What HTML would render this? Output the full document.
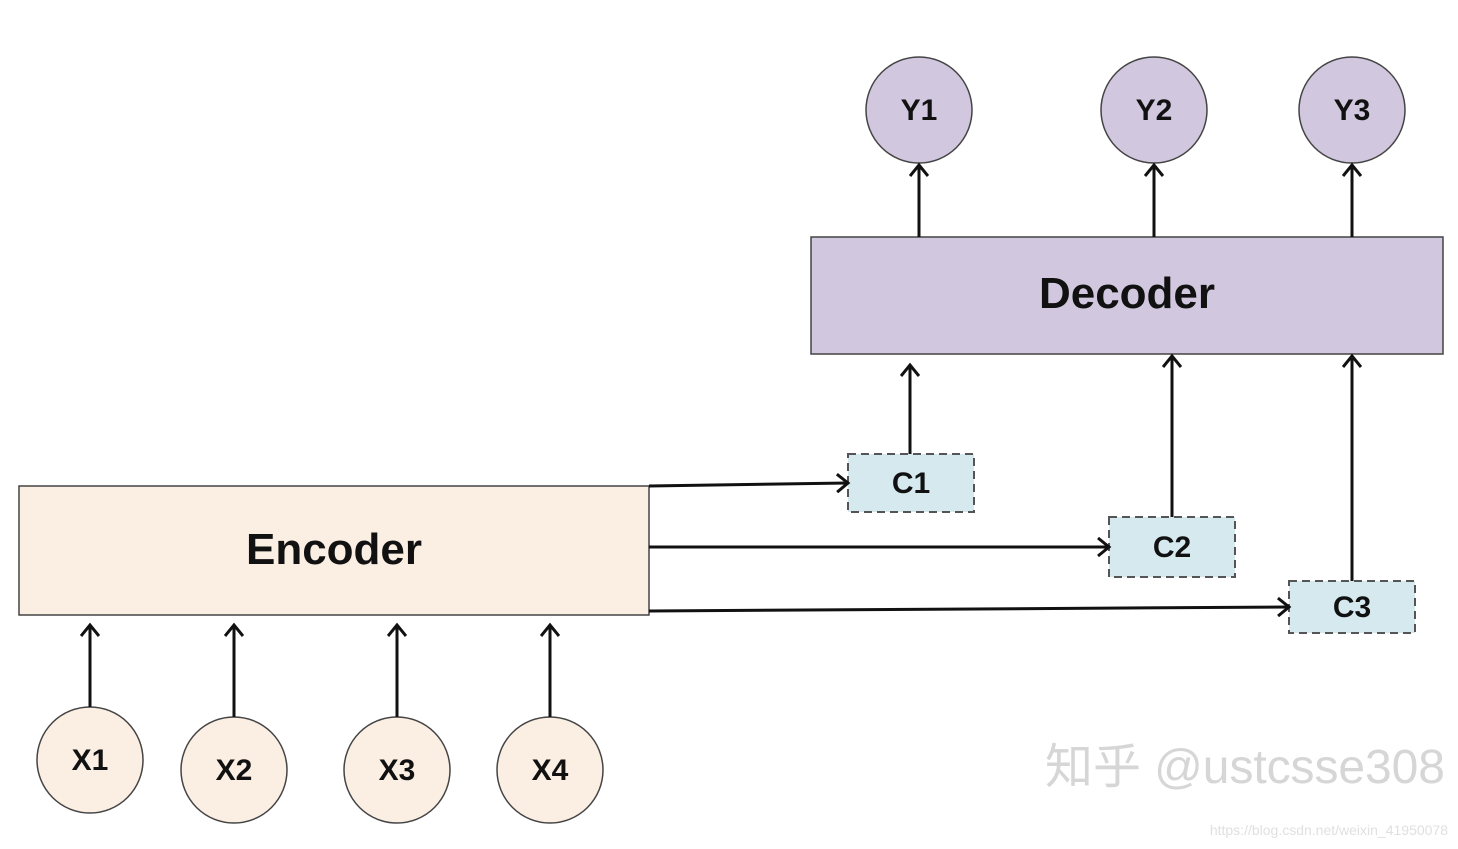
<!DOCTYPE html>
<html><head><meta charset="utf-8"><style>
html,body{margin:0;padding:0;background:#fff;}
svg{display:block;}
text{font-family:"Liberation Sans",sans-serif;font-weight:bold;fill:#111;}
</style></head><body>
<svg width="1458" height="849" viewBox="0 0 1458 849" xmlns="http://www.w3.org/2000/svg">
<defs>
<marker id="a" markerWidth="20" markerHeight="20" refX="13" refY="10" orient="auto" markerUnits="userSpaceOnUse">
<path d="M2,1 L13,10 L2,19" fill="none" stroke="#111" stroke-width="3"/>
</marker>
</defs>
<g stroke="#444" stroke-width="1.5" fill="#d1c7de">
<circle cx="919" cy="110" r="53"/><circle cx="1154" cy="110" r="53"/><circle cx="1352" cy="110" r="53"/>
<rect x="811" y="237" width="632" height="117"/>
</g>
<rect x="19" y="486" width="630" height="129" fill="#fbeee3" stroke="#444" stroke-width="1.5"/>
<g fill="#fbeee3" stroke="#444" stroke-width="1.5">
<circle cx="90" cy="760" r="53"/><circle cx="234" cy="770" r="53"/><circle cx="397" cy="770" r="53"/><circle cx="550" cy="770" r="53"/>
</g>
<g fill="#d5e9ef" stroke="#555" stroke-width="2" stroke-dasharray="8,5">
<rect x="848" y="454" width="126" height="58"/>
<rect x="1109" y="517" width="126" height="60"/>
<rect x="1289" y="581" width="126" height="52"/>
</g>
<g stroke="#111" stroke-width="3" fill="none" marker-end="url(#a)">
<line x1="919" y1="237" x2="919" y2="165"/>
<line x1="1154" y1="237" x2="1154" y2="165"/>
<line x1="1352" y1="237" x2="1352" y2="165"/>
<line x1="910" y1="454" x2="910" y2="365"/>
<line x1="1172" y1="517" x2="1172" y2="356"/>
<line x1="1352" y1="581" x2="1352" y2="356"/>
<line x1="649" y1="486" x2="848" y2="483"/>
<line x1="649" y1="547" x2="1109" y2="547"/>
<line x1="649" y1="611" x2="1289" y2="607"/>
<line x1="90" y1="707" x2="90" y2="625"/>
<line x1="234" y1="717" x2="234" y2="625"/>
<line x1="397" y1="717" x2="397" y2="625"/>
<line x1="550" y1="717" x2="550" y2="625"/>
</g>
<g text-anchor="middle" font-size="30">
<text x="919" y="120">Y1</text><text x="1154" y="120">Y2</text><text x="1352" y="120">Y3</text>
<text x="90" y="770">X1</text><text x="234" y="780">X2</text><text x="397" y="780">X3</text><text x="550" y="780">X4</text>
<text x="911" y="493">C1</text><text x="1172" y="557">C2</text><text x="1352" y="617">C3</text>
<text x="1127" y="308" font-size="44">Decoder</text>
<text x="334" y="564" font-size="44">Encoder</text>
</g>
<text x="1045" y="783" font-size="48" textLength="400" style="font-weight:normal;fill:#d6d6d6;font-family:'Liberation Sans','Noto Sans CJK SC',sans-serif">知乎 @ustcsse308</text>
<text x="1448" y="835" text-anchor="end" font-size="14" style="font-weight:normal;fill:#e0e0e0">https://blog.csdn.net/weixin_41950078</text>
</svg>
</body></html>
